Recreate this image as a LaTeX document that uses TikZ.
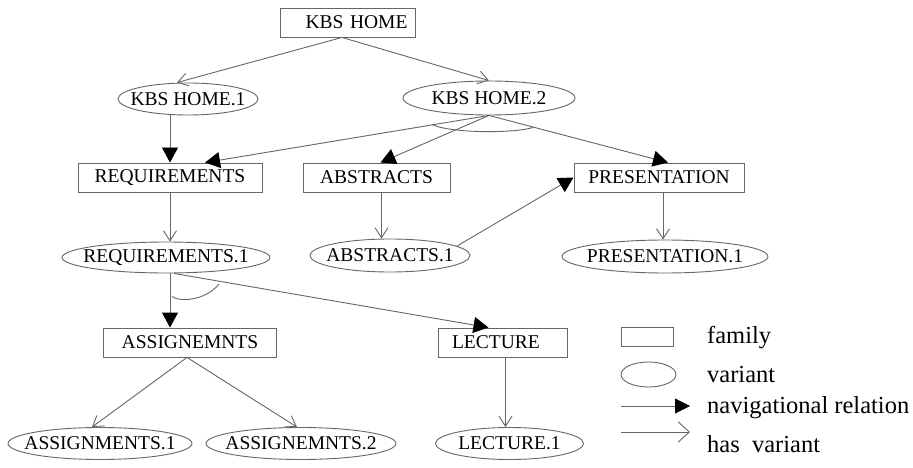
\documentclass[tikz,border=0pt]{standalone}
\usepackage{fontspec}
\setmainfont{Liberation Serif}
\usetikzlibrary{shapes.geometric,arrows.meta,calc}
\begin{document}
\begin{tikzpicture}[x=1pt,y=-1pt,
  lc/.style={draw=black!60, line width=0.9pt},
  nf/.style={font=\fontsize{19.5}{22}\selectfont},
  fam/.style={rectangle, lc, minimum height=29pt, inner sep=0pt, nf},
  var/.style={ellipse, lc, minimum height=32pt, inner sep=0pt, nf},
  nav/.style={lc, -{Triangle[length=15pt,width=16pt,color=black,fill=black]}},
  hv/.style={lc, -{Straight Barb[length=10pt,width=13pt]}},
  lgtext/.style={anchor=base west, inner sep=0pt, font=\fontsize{24.5}{27}\selectfont}
]
\useasboundingbox[fill=white] (0,0) rectangle (913,468);

% family nodes
\node[fam, inner xsep=8pt, text width=119pt, align=right] (kbs) at (348,22.5) {KBS HOME};
\node[fam, minimum width=184pt] (req) at (170,177.5) {REQUIREMENTS};
\node[fam, minimum width=147pt] (abs) at (376.5,177.5) {ABSTRACTS};
\node[fam, minimum width=170pt] (pres) at (659,177.5) {PRESENTATION};
\node[fam, minimum width=173pt] (asg) at (190,342.5) {ASSIGNEMNTS};
\node[fam, inner xsep=14pt, text width=101pt, align=left] (lec) at (502.5,342.5) {LECTURE};

% variant nodes (text in zero-width boxes so the ellipse size is fixed)
\node[var, minimum width=140pt] (h1) at (188,99) {\makebox[0pt]{KBS HOME.1}};
\node[var, minimum width=172pt, minimum height=34pt] (h2) at (489,98) {\makebox[0pt]{KBS HOME.2}};
\node[var, minimum width=208pt, minimum height=31pt] (req1) at (166,257.5) {\makebox[0pt]{REQUIREMENTS.1}};
\node[var, minimum width=160pt, minimum height=33pt] (abs1) at (390,255.5) {\makebox[0pt]{ABSTRACTS.1}};
\node[var, minimum width=206pt, minimum height=33pt] (pres1) at (665,256.5) {\makebox[0pt]{PRESENTATION.1}};
\node[var, minimum width=184pt] (a1) at (100,443.5) {\makebox[0pt]{ASSIGNMENTS.1}};
\node[var, minimum width=190pt] (a2) at (301,443.5) {\makebox[0pt]{ASSIGNEMNTS.2}};
\node[var, minimum width=148pt] (l1) at (509.5,443.5) {\makebox[0pt]{LECTURE.1}};

% has-variant connectors
\draw[hv] ($(kbs.south)+(-6,0)$) -- ($(h1.north)+(-11,0)$);
\draw[hv] ($(kbs.south)+(-6,0)$) -- (h2.north);
\coordinate (rs) at (req.south);
\draw[hv] (rs) -- (rs |- req1.north);
\coordinate (as) at ($(abs.south)+(5,0)$);
\draw[hv] (as) -- (as |- abs1.north);
\coordinate (ps) at ($(pres.south)+(4,0)$);
\draw[hv] (ps) -- (ps |- pres1.north);
\draw[hv] ($(asg.south)+(-3,0)$) -- ($(a1.north)+(-8,0)$);
\draw[hv] ($(asg.south)+(-3,0)$) -- ($(a2.north)+(-4,0)$);
\coordinate (ls) at ($(lec.south)+(3,0)$);
\draw[hv] (ls) -- (ls |- l1.north);

% navigational connectors
\draw[nav] (h1.south -| req.north) -- (req.north);
\draw[nav] (h2.south) -- ($(req.north)+(35,0)$);
\draw[nav] (h2.south) -- ($(abs.north)+(4,0)$);
\draw[nav] (h2.south) -- ($(pres.north)+(9,0)$);
\draw[nav] (abs1.8) -- (pres.west);
\coordinate (r1s) at ($(req1.south)+(4,0)$);
\draw[nav] (r1s) -- (r1s |- asg.north);
\draw[nav] ($(req1.south)+(8,0)$) -- ($(lec.north)+(-14,0)$);

% "and" arcs
\draw[lc] ($(h2.south)+(-57,9)$) .. controls ($(h2.south)+(-39,18)$) and ($(h2.south)+(26,18)$) .. ($(h2.south)+(44,12)$);
\draw[lc] ($(req1.south)+(6,23)$) .. controls ($(req1.south)+(14,29)$) and ($(req1.south)+(40,27)$) .. ($(req1.south)+(53,10.5)$);

% legend
\node[rectangle, lc, minimum width=52pt, minimum height=19pt, inner sep=0pt] (lgf) at (647,336.5) {};
\node[ellipse, lc, minimum width=55pt, minimum height=25pt, inner sep=0pt] (lgv) at (648.5,374.5) {};
\coordinate (lgn1) at (621,406);
\coordinate (lgn2) at (690,406);
\draw[lc, -{Triangle[length=15pt,width=15pt,color=black,fill=black]}] (lgn1) -- (lgn2);
\coordinate (lgh1) at (621,432);
\coordinate (lgh2) at (690,432);
\draw[lc, -{Straight Barb[length=11pt,width=20pt]}] (lgh1) -- (lgh2);
\node[lgtext] (tf) at (707,343) {family};
\node[lgtext] (tv) at (707,382) {variant};
\node[lgtext] (tn) at (707,413) {navigational relation};
\node[lgtext] (th) at (707,452) {has\ \ variant};
\end{tikzpicture}
\end{document}
